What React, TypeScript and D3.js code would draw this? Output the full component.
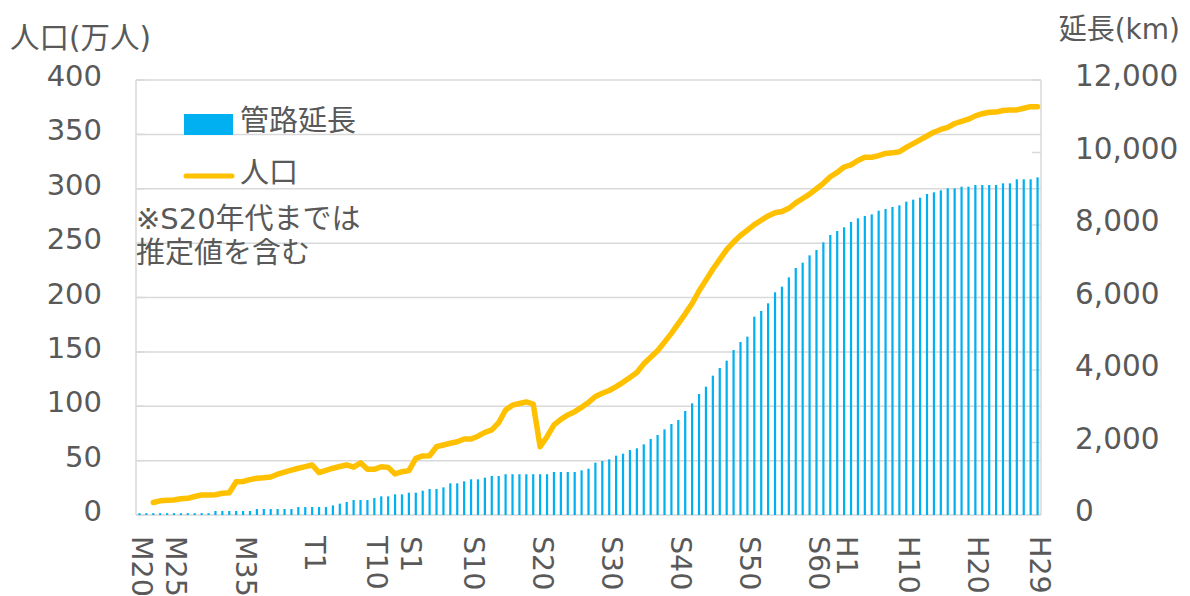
import React from "react";
import * as d3 from "d3";

// First category year (M20 = 1887); one category per year to H29 = 2017
const startYear = 1887;

// 管路延長 (km), one value per year, M20 .. H29
const pipeLengthKm: number[] = [
  50, 50, 50, 50, 50, 50, 50, 50, 50, 50, 50, // i0-10
  110, 110, 110, 110, 110, 110, // i11-16
  165, 165, 165, 165, 165, 165, // i17-22
  220, 220, 220, 220, 220, // i23-27
  265, 313, 359, 414, 414, 414, 469, 515, 515, 570, // i28-37
  570, 616, 616, 671, 717, 717, 763, 874, 874, 929, // i38-47
  984, 984, 1030, 1076, 1076, 1125, 1125, 1125, 1125, 1125, // i48-57
  1125, 1125, 1186, 1186, 1186, 1186, 1232, 1278, 1444, 1490, // i58-67
  1536, 1637, 1692, 1793, 1839, 1949, 2097, 2207, 2363, 2510, // i68-77
  2621, 2869, 3081, 3338, 3540, 3844, 4055, 4257, 4552, 4772, // i78-87
  4920, 5471, 5628, 5839, 6143, 6299, 6556, 6814, 6961, 7163, // i88-97
  7310, 7522, 7724, 7834, 7936, 8083, 8184, 8248, 8294, 8395, // i98-107
  8441, 8497, 8543, 8644, 8699, 8754, 8855, 8901, 8957, 9012, // i108-117
  9012, 9057, 9057, 9103, 9103, 9103, 9103, 9149, 9149, 9260, // i118-127
  9260, 9260, 9315, // i128-130
];

// 人口 (万人), one value per year; no data for the first two years
const populationMan: (number | null)[] = [
  null, null,
  11.5, 13, 13.5, 13.8, 15, 15.3, 17, 18.4, 18.4, 18.6, // i2-11
  20, 20.5, 30.6, 30.8, 32.5, 33.8, 34.3, 35, 37.5, 39.5, // i12-21
  41.3, 43, 44.5, 46, 39, 41, 43, 44.6, 46, 44, // i22-31
  48, 42, 42, 44.4, 43.8, 37.7, 39.8, 40.8, 52, 54.3, // i32-41
  54.5, 62.8, 64.4, 66, 67.4, 69.9, 69.8, 72.5, 76, 78.2, // i42-51
  85, 96.6, 101, 102.5, 104, 102, 62.8, 72, 82.8, 88, // i52-61
  92, 95, 99, 103.5, 109, 112, 114.5, 118, 122, 126.5, // i62-71
  131, 139, 145, 151, 159, 167, 176, 185, 194.5, 206, // i72-81
  216, 226, 235, 244, 251, 257, 262, 267, 271, 275, // i82-91
  278, 279, 282, 287, 291, 295, 300, 305, 311, 315, // i92-101
  320, 322, 326, 329, 329, 330.5, 332.5, 333, 334, 338, // i102-111
  341.5, 345, 348.5, 352, 354.5, 356.5, 360, 362, 364, 367, // i112-121
  369, 370.3, 370.5, 372, 372.4, 372.5, 374, 375.5, 375.5, // i122-130
];

// Labelled categories
const tickYears = [1887, 1892, 1902, 1912, 1921, 1926, 1935, 1945, 1955, 1965, 1975, 1985, 1989, 1998, 2008, 2017];
const tickLabels = ["M20", "M25", "M35", "T1", "T10", "S1", "S10", "S20", "S30", "S40", "S50", "S60", "H1", "H10", "H20", "H29"];

const leftTicks = [0, 50, 100, 150, 200, 250, 300, 350, 400];
const rightTicks = [0, 2000, 4000, 6000, 8000, 10000, 12000];

const leftTitle = "人口(万人)";
const rightTitle = "延長(km)";
const barLegend = "管路延長";
const lineLegend = "人口";
const noteLines = ["※S20年代までは", "推定値を含む"];

const FONT = "'DejaVu Sans', 'Noto Sans CJK JP', sans-serif";
const TEXT = "#595959";
const GRID = "#D9D9D9";
const BAR = "#00B0F0";
const LINE = "#FFC000";

export default function App() {
  const W = 1190;
  const H = 596;
  const left = 136;
  const right = 1041;
  const top = 80;
  const bottom = 515;

  const years = d3.range(startYear, startYear + pipeLengthKm.length);
  const x = d3
    .scaleBand<number>()
    .domain(years)
    .range([left, right])
    .paddingInner(0.68)
    .paddingOuter(0.34);
  const cx = (yr: number) => (x(yr) as number) + x.bandwidth() / 2;

  const yL = d3.scaleLinear().domain([0, 400]).range([bottom, top]);
  const yR = d3.scaleLinear().domain([0, 12000]).range([bottom, top]);

  const popPts = years.map((yr, i) => ({ yr, v: populationMan[i] }));
  const line = d3
    .line<{ yr: number; v: number | null }>()
    .defined((d) => d.v !== null)
    .x((d) => cx(d.yr))
    .y((d) => yL(d.v as number));

  return (
    <svg
      width={W}
      height={H}
      style={{ position: "absolute", left: 0, top: 0, background: "#fff" }}
      fontFamily={FONT}
    >
      {/* gridlines */}
      {leftTicks.map((t) => (
        <line key={"g" + t} x1={left} x2={right} y1={yL(t)} y2={yL(t)} stroke={GRID} strokeWidth={1.5} />
      ))}
      {/* axis lines */}
      <line x1={left} x2={left} y1={top} y2={bottom} stroke={GRID} strokeWidth={1.5} />
      <line x1={right} x2={right} y1={top} y2={bottom} stroke={GRID} strokeWidth={1.5} />
      {/* right axis inner ticks */}
      {rightTicks.map((t) => (
        <line key={"rt" + t} x1={right - 9} x2={right} y1={yR(t)} y2={yR(t)} stroke={GRID} strokeWidth={1.5} />
      ))}
      {/* left axis inner ticks */}
      {leftTicks.map((t) => (
        <line key={"lt" + t} x1={left} x2={left + 9} y1={yL(t)} y2={yL(t)} stroke={GRID} strokeWidth={1.5} />
      ))}

      {/* bars */}
      {years.map((yr, i) => (
        <rect
          key={"b" + yr}
          x={x(yr)}
          y={yR(pipeLengthKm[i])}
          width={x.bandwidth()}
          height={yR(0) - yR(pipeLengthKm[i])}
          fill={BAR}
        />
      ))}

      {/* population line */}
      <path
        d={line(popPts) || ""}
        fill="none"
        stroke={LINE}
        strokeWidth={5.5}
        strokeLinejoin="round"
        strokeLinecap="round"
      />

      {/* left tick labels */}
      {leftTicks.map((t) => (
        <text key={"ll" + t} x={102} y={yL(t) - 4} textAnchor="end" dominantBaseline="central" fontSize={29} fill={TEXT}>
          {d3.format(",")(t)}
        </text>
      ))}
      {/* right tick labels */}
      {rightTicks.map((t) => (
        <text key={"rl" + t} x={1075} y={yR(t) - 4} textAnchor="start" dominantBaseline="central" fontSize={29.5} fill={TEXT}>
          {d3.format(",")(t)}
        </text>
      ))}

      {/* category labels, rotated */}
      {tickYears.map((yr, k) => (
        <text
          key={"c" + yr}
          transform={`translate(${cx(yr) + 2},${536}) rotate(90)`}
          textAnchor="start"
          dominantBaseline="central"
          fontSize={28.5}
          fill={TEXT}
        >
          {tickLabels[k]}
        </text>
      ))}

      {/* axis titles */}
      <text x={10} y={38} dominantBaseline="central" fontSize={29.5} fill={TEXT}>
        {leftTitle}
      </text>
      <text x={1180} y={29} textAnchor="end" dominantBaseline="central" fontSize={28} fill={TEXT}>
        {rightTitle}
      </text>

      {/* legend */}
      <rect x={184} y={114} width={49} height={21} fill={BAR} />
      <text x={240} y={121} dominantBaseline="central" fontSize={29} fill={TEXT}>
        {barLegend}
      </text>
      <line x1={186} x2={232} y1={176} y2={176} stroke={LINE} strokeWidth={5} strokeLinecap="round" />
      <text x={240} y={173} dominantBaseline="central" fontSize={29} fill={TEXT}>
        {lineLegend}
      </text>

      {/* note */}
      {noteLines.map((s, k) => (
        <text key={"n" + k} x={136} y={219 + k * 34} dominantBaseline="central" fontSize={29} fill={TEXT}>
          {s}
        </text>
      ))}
    </svg>
  );
}
